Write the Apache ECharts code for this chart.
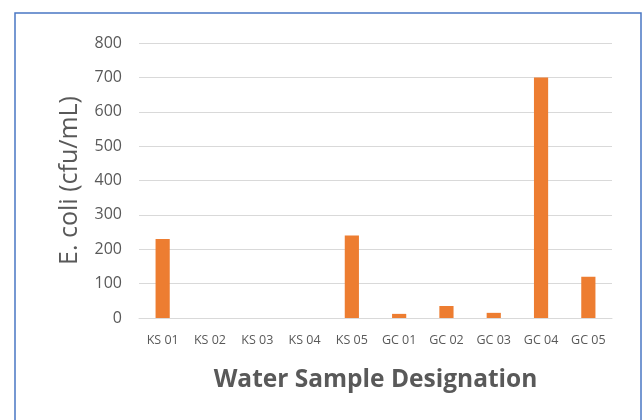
<!DOCTYPE html>
<html><head><meta charset="utf-8">
<script src="https://cdn.jsdelivr.net/npm/echarts@6/dist/echarts.min.js"></script>
<style>html,body{margin:0;padding:0;background:#fff}#c{width:643px;height:420px}</style>
</head><body><div id="c"></div>
<script>
const categories = ['KS 01','KS 02','KS 03','KS 04','KS 05','GC 01','GC 02','GC 03','GC 04','GC 05'];
const ecoliValues = [230, 0, 0, 0, 240, 12, 35, 15, 700, 120];
const yTicks = { min: 0, max: 800, interval: 100 };
const xTitle = 'Water Sample Designation';
const yTitle = 'E. coli (cfu/mL)';

const chart = echarts.init(document.getElementById('c'));
chart.setOption({
  animation: false,
  textStyle: { fontFamily: 'Open Sans' },
  graphic: [{
    type: 'rect', shape: { x: 15, y: 13, width: 626, height: 420 },
    style: { fill: 'none', stroke: '#4a77c4', lineWidth: 1.5 }, silent: true
  }],
  grid: { left: 139, right: 31, top: 43, bottom: 102 },
  xAxis: {
    type: 'category', data: categories,
    axisLine: { show: true, lineStyle: { color: '#d9d9d9', width: 1 } },
    axisTick: { show: false },
    axisLabel: { color: '#595959', fontSize: 12.5, margin: 16, fontFamily: 'Open Sans' },
    name: xTitle, nameLocation: 'middle', nameGap: 50,
    nameTextStyle: { color: '#595959', fontSize: 24.5, fontWeight: 'bold', fontFamily: 'Open Sans' }
  },
  yAxis: {
    type: 'value', min: yTicks.min, max: yTicks.max, interval: yTicks.interval,
    axisLine: { show: false }, axisTick: { show: false },
    splitLine: { lineStyle: { color: '#d9d9d9', width: 1 } },
    axisLabel: { color: '#595959', fontSize: 16, margin: 17 },
    name: yTitle, nameLocation: 'middle', nameGap: 57,
    nameTextStyle: { color: '#595959', fontSize: 25 }
  },
  series: [{
    type: 'bar', data: ecoliValues, barWidth: '30%',
    itemStyle: { color: '#ED7D31' }
  }]
});
</script></body></html>
